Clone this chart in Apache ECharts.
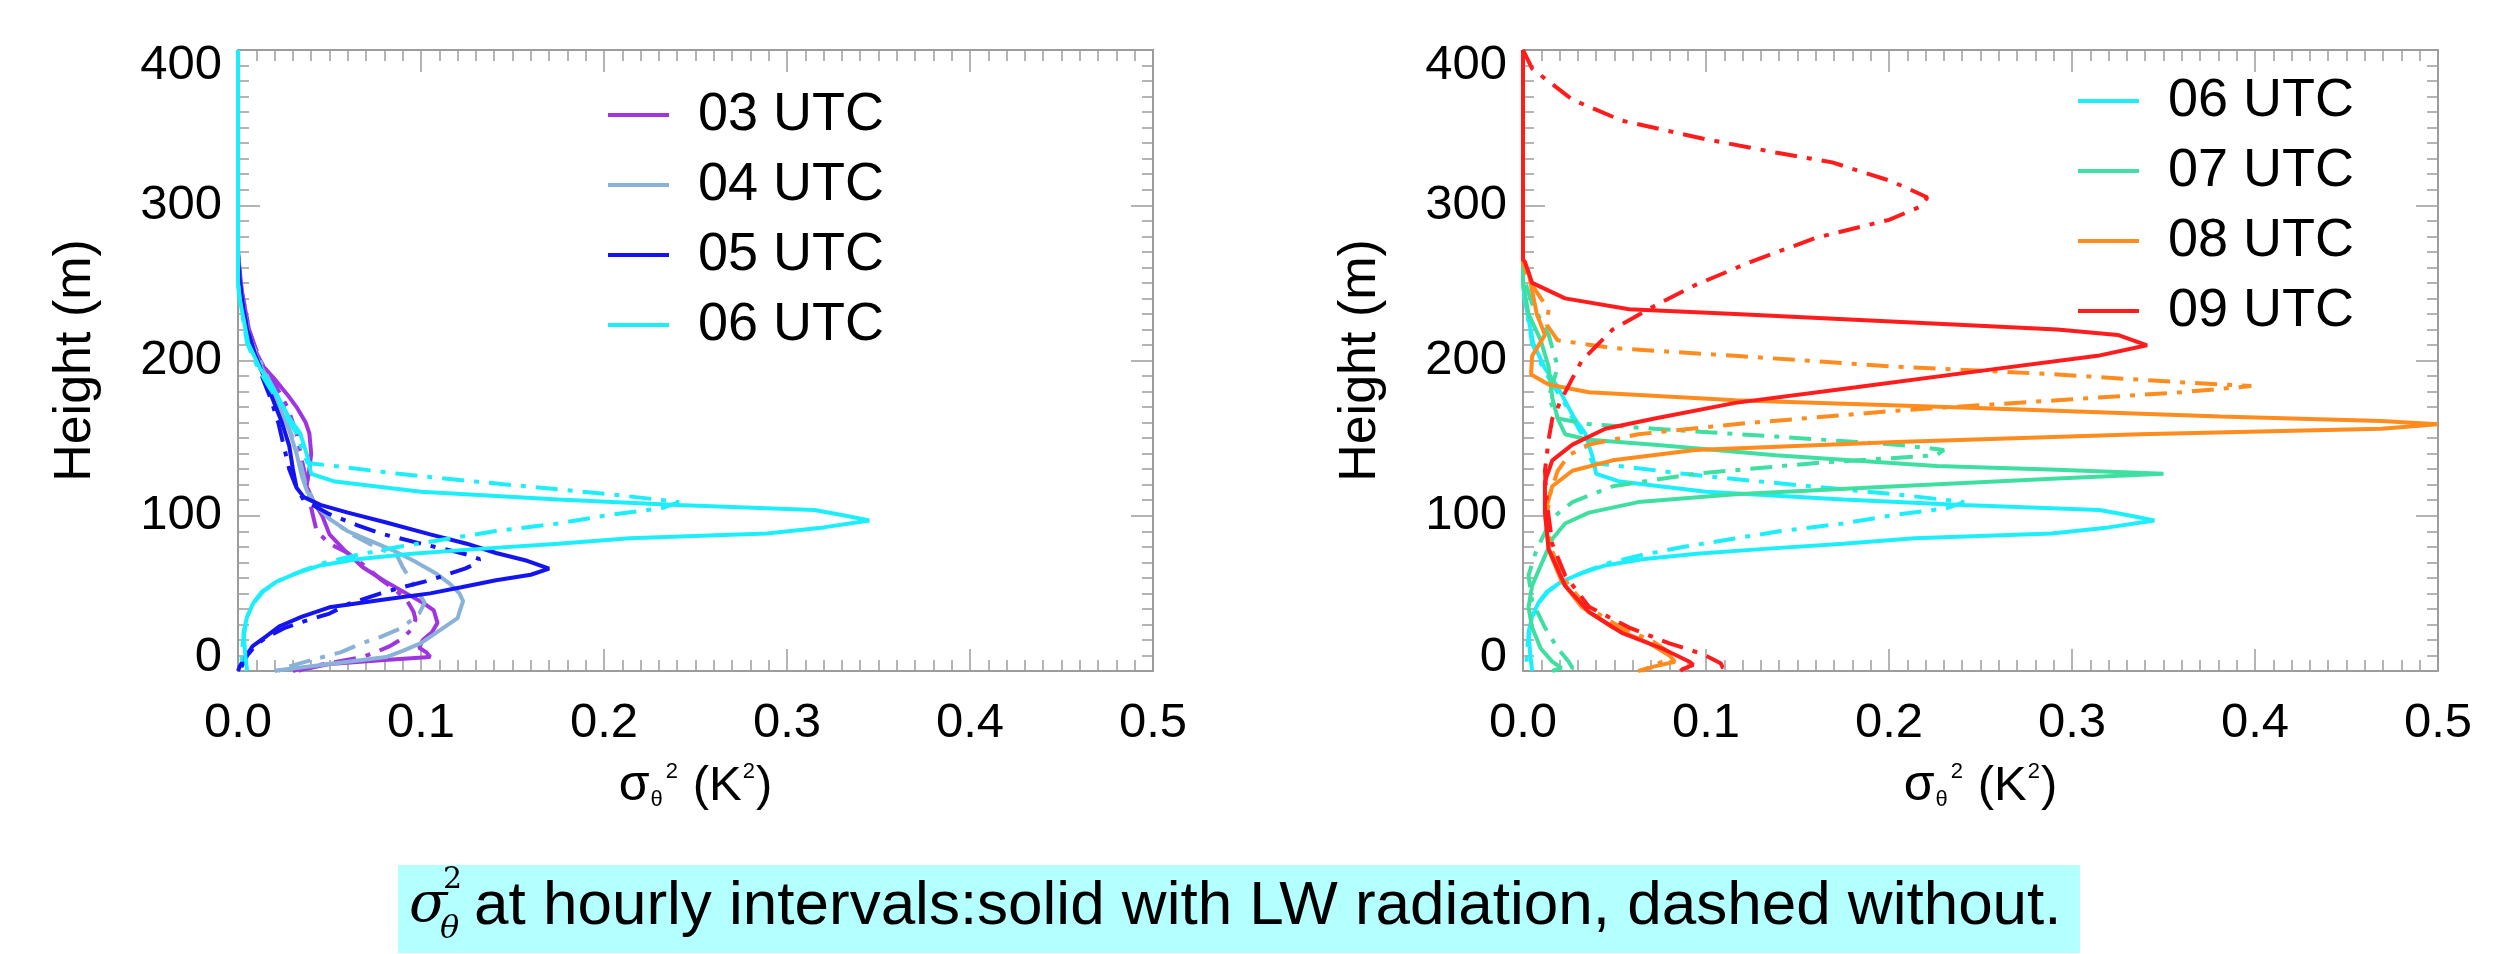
<!DOCTYPE html>
<html>
<head>
<meta charset="utf-8">
<title>Potential temperature variance profiles</title>
<script src="https://cdn.jsdelivr.net/npm/echarts@6/dist/echarts.min.js"></script>
<style>
  html, body { margin: 0; padding: 0; background: #ffffff; }
  #chart { width: 2517px; height: 954px; }
</style>
</head>
<body>
<div id="chart"></div>
<script>
// Profiles of sigma_theta^2 (K^2) against height (m), as [variance, height] pairs.
// "u" = run with longwave radiation (solid), "d" = run without (dash-dot).

const xTickLabels = ['0.0', '0.1', '0.2', '0.3', '0.4', '0.5'];
const yTickLabels = ['0', '100', '200', '300', '400'];

const hoursLeft = ['03 UTC', '04 UTC', '05 UTC', '06 UTC'];
const hoursRight = ['06 UTC', '07 UTC', '08 UTC', '09 UTC'];

const u03 = [[0,400],[0,270],[0.002,245],[0.006,220],[0.010,205],[0.014,196],[0.020,188],[0.027,178],[0.032,170],[0.037,160],[0.039,153],[0.040,140],[0.039,130],[0.0375,119],[0.041,110],[0.046,100],[0.050,88],[0.058,78],[0.068,67],[0.080,58],[0.092,50],[0.101,44],[0.107,39],[0.109,31],[0.106,25],[0.101,20],[0.099,15],[0.103,12],[0.105,9],[0.078,7],[0.050,4.5],[0.035,1],[0.033,0]];
const d03 = [[0,400],[0,270],[0.002,245],[0.006,220],[0.012,200],[0.020,185],[0.027,170],[0.032,153],[0.035,135],[0.038,120],[0.040,105],[0.043,90],[0.050,82],[0.060,76],[0.070,67],[0.078,59],[0.086,52],[0.092,46],[0.096,38],[0.097,33],[0.095,27],[0.090,21],[0.083,16],[0.075,12],[0.068,9],[0.050,5],[0.035,2],[0.030,0]];

const u04 = [[0,400],[0,265],[0.002,240],[0.006,215],[0.011,200],[0.016,188],[0.022,172],[0.028,155],[0.032,140],[0.035,125],[0.038,115],[0.044,105],[0.050,98],[0.060,90],[0.074,83],[0.086,77],[0.096,71],[0.108,63],[0.116,56],[0.121,50],[0.123,45],[0.121,38],[0.120,34],[0.110,26],[0.100,18],[0.090,13],[0.081,9],[0.060,6],[0.040,3],[0.022,0.5],[0.020,0]];
const d04 = [[0,400],[0,265],[0.002,240],[0.006,215],[0.012,200],[0.018,185],[0.025,165],[0.030,150],[0.034,135],[0.037,120],[0.042,108],[0.050,98],[0.062,88],[0.075,80],[0.087,74],[0.090,67],[0.094,59],[0.099,50],[0.102,44],[0.099,37],[0.094,32],[0.088,27],[0.078,22],[0.068,18],[0.056,12],[0.040,7],[0.028,3],[0.022,0]];

const u05 = [[0,400],[0,265],[0.002,240],[0.005,220],[0.009,205],[0.014,190],[0.019,175],[0.024,160],[0.028,145],[0.030,130],[0.032,118],[0.036,112],[0.045,107],[0.060,102],[0.080,96],[0.105,88],[0.125,82],[0.141,76],[0.158,71],[0.170,66],[0.160,62],[0.141,58.5],[0.122,54],[0.105,50],[0.080,46],[0.050,41],[0.035,35],[0.023,29],[0.015,22],[0.008,16],[0.004,9],[0.001,3],[0,0]];
const d05 = [[0,400],[0,265],[0.002,240],[0.005,220],[0.009,205],[0.013,190],[0.018,175],[0.022,160],[0.025,145],[0.028,130],[0.032,118],[0.036,110],[0.050,101],[0.065,94],[0.078,88.5],[0.100,82],[0.115,78],[0.125,75],[0.132,72],[0.130,69],[0.124,66],[0.105,58.5],[0.090,54],[0.078,50],[0.060,43],[0.050,37],[0.036,32],[0.026,28],[0.016,22],[0.010,17],[0.005,10],[0.002,3],[0.001,0]];

const u06 = [[0,400],[0,250],[0.001,239],[0.0056,211],[0.012,195],[0.019,183],[0.023,174],[0.028,163],[0.034,153],[0.038,138],[0.040,127],[0.053,122],[0.100,115.5],[0.175,110.5],[0.240,107],[0.315,103.7],[0.330,100.5],[0.345,97],[0.320,92.5],[0.289,88.5],[0.214,85.5],[0.175,82],[0.130,78.5],[0.095,75.5],[0.065,72],[0.045,68],[0.032,63],[0.021,57.5],[0.013,51],[0.0085,44],[0.005,35],[0.003,25],[0.004,10],[0.005,0]];
const d06 = [[0,400],[0,250],[0.001,239],[0.005,211],[0.011,195],[0.017,183],[0.022,174],[0.027,163],[0.032,153],[0.035,143],[0.038,134],[0.060,131],[0.088,127],[0.130,122],[0.175,117],[0.210,113],[0.241,108.8],[0.232,105],[0.200,100],[0.175,95],[0.140,90],[0.114,85],[0.088,80],[0.066,75],[0.048,70],[0.036,65],[0.022,58],[0.014,51.5],[0.008,43],[0.005,34.7],[0.003,22],[0.002,10],[0.002,0]];

const u07 = [[0,400],[0,250],[0.003,230],[0.0097,213],[0.014,196],[0.016,176],[0.019,162.6],[0.023,152.5],[0.036,149],[0.072,145.8],[0.138,139],[0.226,132],[0.292,129.6],[0.350,127],[0.292,124],[0.204,119],[0.116,113.8],[0.063,108.8],[0.036,102],[0.023,95],[0.016,85],[0.0097,68],[0.005,55],[0.003,41],[0.005,28],[0.0097,14.5],[0.016,6],[0.021,2],[0.016,0]];
const d07 = [[0,400],[0,255],[0.005,236.7],[0.014,216.5],[0.019,196],[0.014,176],[0.019,162.6],[0.036,159],[0.072,156],[0.138,151],[0.204,145.8],[0.230,142.4],[0.226,139],[0.160,134],[0.094,127],[0.049,119],[0.027,108.8],[0.016,98.6],[0.0075,78.5],[0.003,61.6],[0.005,44.8],[0.012,28],[0.019,14.5],[0.025,6],[0.027,2],[0.025,0]];

const u08 = [[0,400],[0,262],[0.003,257],[0.0075,230],[0.012,216.5],[0.005,203],[0.0044,191],[0.014,184.5],[0.036,179.5],[0.116,174.4],[0.248,169.4],[0.381,164],[0.469,161],[0.500,159],[0.469,156],[0.337,152.5],[0.204,147.5],[0.094,142.4],[0.049,135.7],[0.027,129],[0.016,119],[0.012,102],[0.014,78.5],[0.021,58],[0.032,41.4],[0.049,28],[0.069,17.8],[0.080,10],[0.083,6],[0.072,3],[0.063,0]];
const d08 = [[0,400],[0,262],[0.004,250],[0.014,233],[0.013,223],[0.019,213],[0.049,208],[0.116,203],[0.204,196],[0.292,191],[0.359,186],[0.398,183.5],[0.359,179.5],[0.292,174.4],[0.204,167.7],[0.116,159],[0.063,152.5],[0.036,145.8],[0.025,139],[0.019,129],[0.015,115],[0.013,100],[0.015,80],[0.022,60],[0.034,42],[0.052,29],[0.071,19],[0.080,12],[0.078,7],[0.070,3],[0.065,0]];

const u09 = [[0,400],[0,265],[0.001,263.6],[0.005,250],[0.023,240],[0.058,233],[0.116,230],[0.204,225],[0.292,220],[0.325,216.5],[0.341,209.8],[0.314,203],[0.248,193],[0.182,182.8],[0.116,172.7],[0.072,162.6],[0.045,156],[0.027,145.8],[0.016,135.7],[0.012,122],[0.012,102],[0.014,78.5],[0.023,55],[0.036,38],[0.054,24.6],[0.076,14.5],[0.091,6],[0.093,4],[0.087,1],[0.086,0]];
const d09 = [[0,400],[0.005,388],[0.027,368],[0.054,354.5],[0.098,343],[0.138,334],[0.169,327.6],[0.200,316],[0.210,311],[0.221,305],[0.217,299],[0.200,290.6],[0.160,279],[0.1245,263.6],[0.094,248.5],[0.0716,235],[0.049,220],[0.032,199.7],[0.023,179.5],[0.016,162.6],[0.014,149],[0.012,129],[0.013,108.8],[0.016,81.8],[0.023,61.6],[0.036,41.4],[0.058,28],[0.080,17.8],[0.098,11],[0.108,5],[0.109,2.7],[0.104,0]];

const hourColors = {
  '03 UTC': '#a034e0',
  '04 UTC': '#8ab2d8',
  '05 UTC': '#1414f0',
  '06 UTC': '#1ceefc',
  '07 UTC': '#3fdfa2',
  '08 UTC': '#ff8c1e',
  '09 UTC': '#ff1c1c'
};

const FONT = '"Liberation Sans", Arial, Helvetica, sans-serif';
const SERIF = '"DejaVu Serif", serif';
const AXIS_GREY = '#9c9c9c';
const DASH_DOT = [22, 10, 5, 10];

const grids = [
  { left: 238, top: 50, width: 915, height: 621 },
  { left: 1523, top: 50, width: 915, height: 621 }
];

function tickStyle() {
  return {
    axisLine: { show: true, onZero: false, lineStyle: { color: AXIS_GREY, width: 2 } },
    axisTick: { show: true, inside: true, length: 22, lineStyle: { color: AXIS_GREY, width: 1.5 } },
    minorTick: { show: true, splitNumber: 10, length: 11, lineStyle: { color: AXIS_GREY, width: 1.5 } },
    splitLine: { show: false },
    minorSplitLine: { show: false }
  };
}

// End labels of the height axis sit inside the frame: the bottom one is
// lifted and the top one lowered by padding their text boxes.
function heightLabel(v) {
  const t = yTickLabels[Math.round(v / 100)];
  if (v === 0) return '{lo|' + t + '}';
  if (v === 400) return '{hi|' + t + '}';
  return t;
}

const xAxes = [];
const yAxes = [];
grids.forEach((g, i) => {
  xAxes.push(Object.assign({
    gridIndex: i, type: 'value', position: 'bottom', min: 0, max: 0.5, interval: 0.1,
    axisLabel: {
      fontSize: 49, fontFamily: FONT, color: '#000', margin: 28,
      formatter: v => xTickLabels[Math.round(v * 10)]
    },
    name: '{s|σ}{sub|θ}{sup|2}{n| (K}{sup|2}{n|)}',
    nameLocation: 'middle', nameGap: 86, nameMoveOverlap: false,
    nameTextStyle: {
      color: '#000', fontFamily: FONT,
      rich: {
        s: { fontSize: 50, fontFamily: FONT, color: '#000', lineHeight: 58, verticalAlign: 'middle' },
        sub: { fontSize: 22, fontFamily: FONT, color: '#000', verticalAlign: 'bottom', padding: [0, 2, 4, 1] },
        sup: { fontSize: 22, fontFamily: FONT, color: '#000', verticalAlign: 'top', padding: [4, 1, 0, 1] },
        n: { fontSize: 49, fontFamily: FONT, color: '#000', lineHeight: 58, verticalAlign: 'middle' }
      }
    }
  }, tickStyle()));
  xAxes.push(Object.assign({
    gridIndex: i, type: 'value', position: 'top', min: 0, max: 0.5, interval: 0.1,
    axisLabel: { show: false }
  }, tickStyle()));
  yAxes.push(Object.assign({
    gridIndex: i, type: 'value', position: 'left', min: 0, max: 400, interval: 100,
    axisLabel: {
      fontSize: 49, fontFamily: FONT, color: '#000', margin: 16,
      formatter: heightLabel,
      rich: {
        lo: { fontSize: 49, fontFamily: FONT, color: '#000', padding: [0, 0, 28, 0] },
        hi: { fontSize: 49, fontFamily: FONT, color: '#000', padding: [30, 0, 0, 0] }
      }
    },
    name: 'Height (m)', nameLocation: 'middle', nameRotate: 90, nameGap: 136, nameMoveOverlap: false,
    nameTextStyle: { fontSize: 52, fontFamily: FONT, color: '#000' }
  }, tickStyle()));
  yAxes.push(Object.assign({
    gridIndex: i, type: 'value', position: 'right', min: 0, max: 400, interval: 100,
    axisLabel: { show: false }
  }, tickStyle()));
});

function profile(name, hour, data, dashed, panel) {
  return {
    type: 'line',
    name: name,
    xAxisIndex: panel * 2,
    yAxisIndex: panel * 2,
    data: data,
    showSymbol: false,
    symbol: 'none',
    smooth: false,
    z: 3,
    color: hourColors[hour],
    lineStyle: { color: hourColors[hour], width: 4, type: dashed ? DASH_DOT : 'solid' },
    emphasis: { disabled: true }
  };
}

const leftSets = [[u03, d03], [u04, d04], [u05, d05], [u06, d06]];
const rightSets = [[u06, d06], [u07, d07], [u08, d08], [u09, d09]];

const series = [];
hoursLeft.forEach((h, k) => {
  series.push(profile(h + ' no LW', h, leftSets[k][1], true, 0));
  series.push(profile(h, h, leftSets[k][0], false, 0));
});
hoursRight.forEach((h, k) => {
  series.push(profile(h + ' no LW', h, rightSets[k][1], true, 1));
  series.push(profile(h, h, rightSets[k][0], false, 1));
});

function legendAt(names, left, top) {
  return {
    data: names, left: left, top: top, orient: 'vertical',
    icon: 'rect', itemWidth: 61, itemHeight: 4, itemGap: 16,
    selectedMode: false,
    textStyle: { fontSize: 54, lineHeight: 54, fontFamily: FONT, color: '#000', padding: [0, 0, 0, 24] }
  };
}

const CAPTION = 'at hourly intervals:solid with LW radiation, dashed without.';

const option = {
  animation: false,
  backgroundColor: '#ffffff',
  grid: grids.map(g => Object.assign({ outerBoundsMode: 'none', containLabel: false }, g)),
  xAxis: xAxes,
  yAxis: yAxes,
  legend: [legendAt(hoursLeft, 603, 83), legendAt(hoursRight, 2073, 69)],
  series: series,
  graphic: [
    { type: 'rect', z: 10, shape: { x: 398, y: 865, width: 1682, height: 88 }, style: { fill: '#b4ffff' } },
    { type: 'text', z: 11, style: { text: 'σ', x: 409, y: 906, fontSize: 56, fontStyle: 'italic', fontFamily: SERIF, fill: '#000', verticalAlign: 'middle' } },
    { type: 'text', z: 11, style: { text: '2', x: 443, y: 880, fontSize: 30, fontFamily: SERIF, fill: '#000', verticalAlign: 'middle' } },
    { type: 'text', z: 11, style: { text: 'θ', x: 440, y: 930, fontSize: 32, fontStyle: 'italic', fontFamily: SERIF, fill: '#000', verticalAlign: 'middle' } },
    { type: 'text', z: 11, style: { text: CAPTION, x: 474, y: 907, fontSize: 62, fontFamily: FONT, fill: '#000', verticalAlign: 'middle' } }
  ]
};

const chart = echarts.init(document.getElementById('chart'), null, { renderer: 'canvas' });
chart.setOption(option);
</script>
</body>
</html>
